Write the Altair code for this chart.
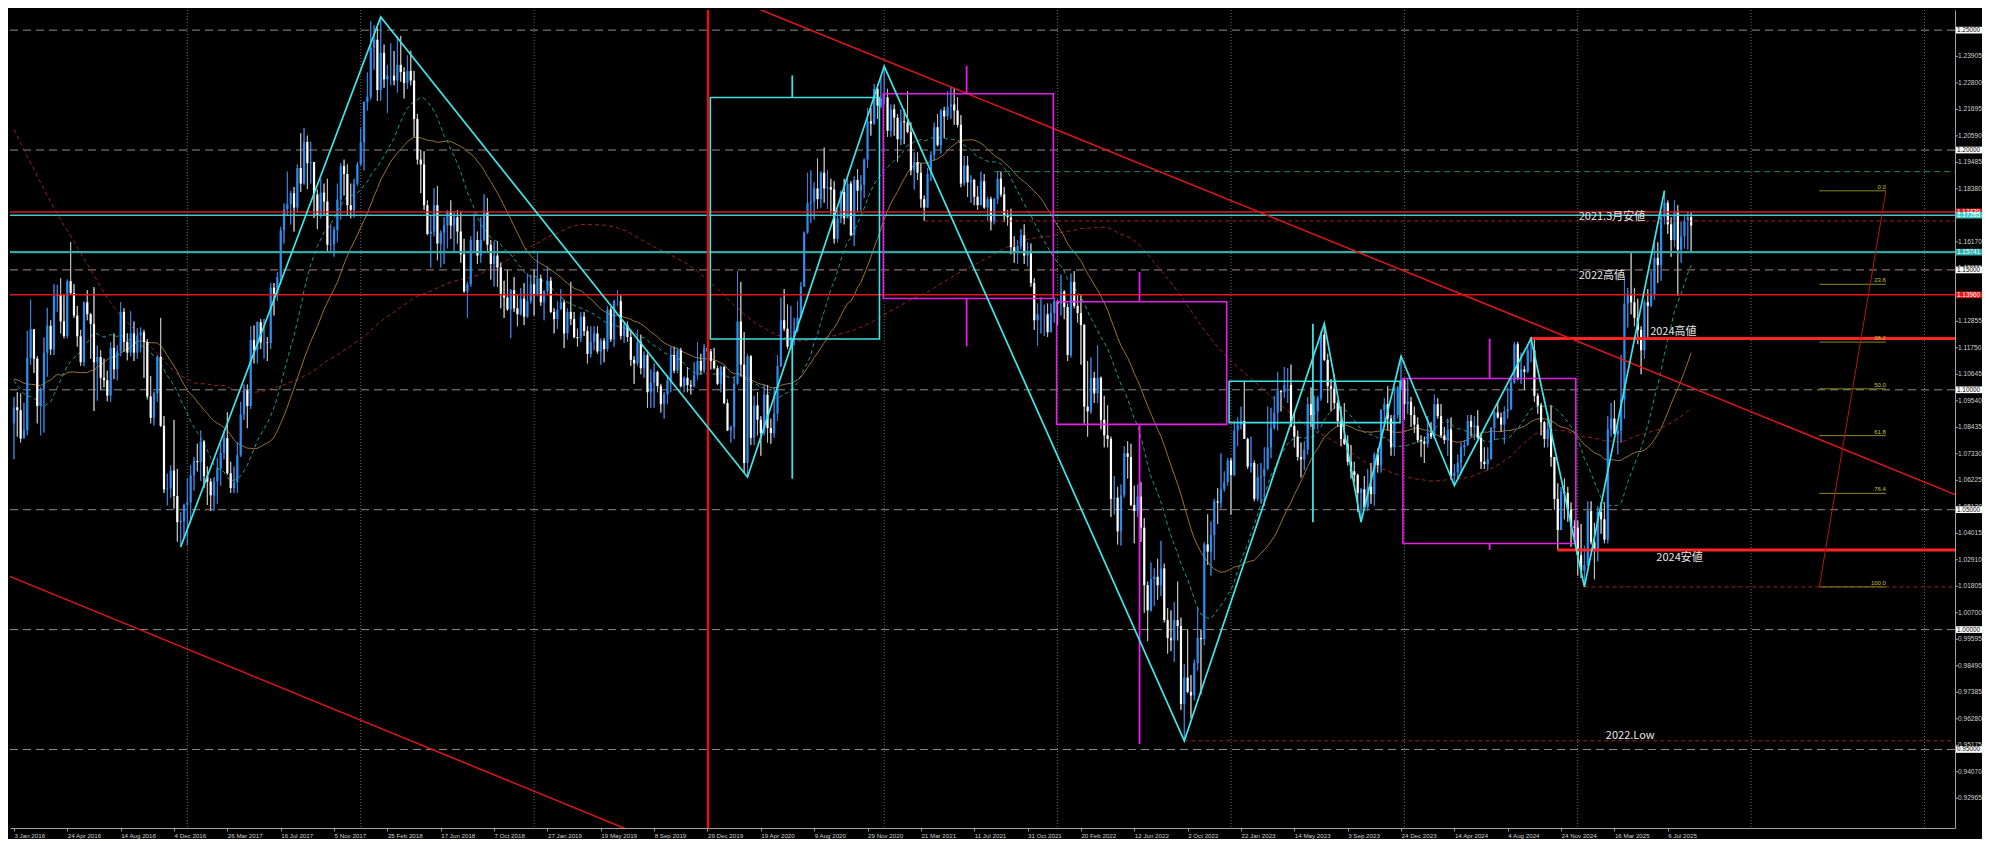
import altair as alt
import pandas as pd

W, H = 1945, 818
Y_MIN, Y_MAX = 0.91725, 1.2584

# ---------------- weekly closes before the visible window (only used for the moving averages)
pre_close = [
    1.3490, 1.3630, 1.3740, 1.3800, 1.3870, 1.3910, 1.3790, 1.3750, 1.3780, 1.3880,
    1.3880, 1.3830, 1.3870, 1.3870, 1.3750, 1.3630, 1.3630, 1.3600, 1.3590, 1.3600,
    1.3640, 1.3690, 1.3610, 1.3600, 1.3520, 1.3420, 1.3410, 1.3400, 1.3240, 1.3180,
    1.3130, 1.2950, 1.2830, 1.2680, 1.2520, 1.2630, 1.2760, 1.2670, 1.2680, 1.2510,
    1.2480, 1.2390, 1.2450, 1.2290, 1.2330, 1.2210, 1.2230, 1.2100,
    1.1840, 1.1630, 1.1200, 1.1290, 1.1310, 1.1390, 1.1380, 1.1200, 1.0840, 1.0490,
    1.0800, 1.0890, 1.0970, 1.0600, 1.0670, 1.0870, 1.1200, 1.1200, 1.1450, 1.1010,
    1.0990, 1.1110, 1.1260, 1.1270, 1.1160, 1.1110, 1.0950, 1.1010, 1.0830, 1.0980,
    1.0960, 1.1040, 1.1380, 1.1180, 1.1150, 1.1330, 1.1290, 1.1290, 1.1170, 1.1300,
    1.1360, 1.1010, 1.1000, 1.0740, 1.0770, 1.0640, 1.0590, 1.0880, 1.0990, 1.0990,
    1.0970, 1.0860,
]

# ---------------- weekly bars (high, low, close), weeks starting 3 Jan 2016
w2016 = [(1.0970,1.0710,1.0927),(1.0990,1.0805,1.0915),(1.0985,1.0780,1.0797),(1.0945,1.0810,1.0831),
         (1.1245,1.0810,1.1133),(1.1376,1.1105,1.1253),(1.1215,1.1070,1.1130),(1.1140,1.0860,1.0932),
         (1.1010,1.0810,1.1003),(1.1218,1.0822,1.1155),(1.1342,1.1055,1.1267),(1.1290,1.1145,1.1168),
         (1.1440,1.1145,1.1390),(1.1438,1.1325,1.1398),(1.1465,1.1235,1.1285),(1.1400,1.1215,1.1225),
         (1.1460,1.1215,1.1453),(1.1616,1.1400,1.1403),(1.1440,1.1300,1.1310),(1.1350,1.1180,1.1223),
         (1.1250,1.1100,1.1115),(1.1368,1.1098,1.1365),(1.1416,1.1290,1.1315),(1.1320,1.1130,1.1275),
         (1.1428,1.0912,1.1115),(1.1185,1.0955,1.1137),(1.1165,1.0998,1.1050),(1.1130,1.1010,1.1040),
         (1.1080,1.0952,1.0976),(1.1198,1.0950,1.1175),(1.1235,1.1045,1.1086),(1.1185,1.1040,1.1160),
         (1.1366,1.1140,1.1325),(1.1340,1.1158,1.1200),(1.1235,1.1123,1.1155),(1.1327,1.1140,1.1235),
         (1.1285,1.1120,1.1155),(1.1257,1.1130,1.1227),(1.1260,1.1156,1.1240),(1.1250,1.1050,1.1200),
         (1.1212,1.0960,1.0972),(1.1058,1.0860,1.0883),(1.0993,1.0851,1.0985),(1.1145,1.0950,1.1138),
         (1.1300,1.0845,1.0850),(1.0890,1.0570,1.0585),(1.0650,1.0518,1.0589),(1.0685,1.0550,1.0663),
         (1.0874,1.0505,1.0557),(1.0670,1.0367,1.0448),(1.0490,1.0345,1.0453),(1.0525,1.0380,1.0520)]
w2017 = [(1.0630,1.0350,1.0530),(1.0685,1.0455,1.0643),(1.0720,1.0580,1.0703),(1.0775,1.0660,1.0699),
         (1.0830,1.0620,1.0784),(1.0790,1.0590,1.0640),(1.0680,1.0520,1.0617),(1.0630,1.0495,1.0560),
         (1.0635,1.0495,1.0618),(1.0715,1.0525,1.0672),(1.0775,1.0600,1.0737),(1.0830,1.0710,1.0799),
         (1.0906,1.0645,1.0652),(1.0700,1.0570,1.0590),(1.0680,1.0570,1.0614),(1.0780,1.0570,1.0727),
         (1.0950,1.0720,1.0897),(1.1022,1.0875,1.0998),(1.1022,1.0840,1.0932),(1.1265,1.0920,1.1207),
         (1.1268,1.1110,1.1165),(1.1285,1.1110,1.1282),(1.1295,1.1170,1.1197),(1.1296,1.1130,1.1197),
         (1.1220,1.1120,1.1195),(1.1445,1.1170,1.1426),(1.1445,1.1310,1.1399),(1.1490,1.1370,1.1470),
         (1.1680,1.1440,1.1665),(1.1777,1.1610,1.1752),(1.1910,1.1730,1.1775),(1.1830,1.1690,1.1820),
         (1.1846,1.1660,1.1760),(1.1940,1.1740,1.1925),(1.2070,1.1825,1.1860),(1.2092,1.1855,1.2034),
         (1.2060,1.1837,1.1945),(1.2035,1.1860,1.1949),(1.1950,1.1717,1.1815),(1.1835,1.1670,1.1730),
         (1.1880,1.1715,1.1822),(1.1860,1.1730,1.1785),(1.1880,1.1575,1.1605),(1.1690,1.1575,1.1608),
         (1.1680,1.1555,1.1666),(1.1860,1.1615,1.1793),(1.1945,1.1710,1.1933),(1.1960,1.1810,1.1900),
         (1.1940,1.1730,1.1770),(1.1860,1.1715,1.1750),(1.1880,1.1718,1.1860),(1.1950,1.1850,1.1940),
         (1.2090,1.1935,1.2032)]
w2018 = [(1.2202,1.1915,1.2200),(1.2323,1.2165,1.2222),(1.2537,1.2210,1.2427),(1.2520,1.2335,1.2460),
         (1.2510,1.2205,1.2250),(1.2555,1.2205,1.2405),(1.2440,1.2260,1.2295),(1.2355,1.2155,1.2310),
         (1.2445,1.2270,1.2310),(1.2413,1.2270,1.2290),(1.2476,1.2240,1.2355),(1.2476,1.2285,1.2325),
         (1.2345,1.2215,1.2280),(1.2395,1.2255,1.2330),(1.2414,1.2270,1.2290),(1.2330,1.2055,1.2130),
         (1.2150,1.1940,1.1960),(1.2000,1.1820,1.1940),(1.1995,1.1750,1.1770),(1.1790,1.1645,1.1650),
         (1.1725,1.1510,1.1660),(1.1840,1.1640,1.1770),(1.1850,1.1540,1.1610),(1.1665,1.1510,1.1655),
         (1.1720,1.1525,1.1685),(1.1750,1.1590,1.1745),(1.1790,1.1630,1.1685),(1.1746,1.1575,1.1720),
         (1.1750,1.1610,1.1660),(1.1745,1.1530,1.1565),(1.1630,1.1405,1.1410),(1.1450,1.1300,1.1440),
         (1.1640,1.1430,1.1625),(1.1735,1.1575,1.1625),(1.1660,1.1525,1.1560),(1.1720,1.1530,1.1625),
         (1.1815,1.1620,1.1745),(1.1800,1.1580,1.1605),(1.1625,1.1460,1.1525),(1.1620,1.1430,1.1560),
         (1.1620,1.1430,1.1510),(1.1530,1.1340,1.1400),(1.1455,1.1300,1.1385),(1.1500,1.1330,1.1335),
         (1.1420,1.1215,1.1415),(1.1470,1.1325,1.1340),(1.1400,1.1265,1.1315),(1.1425,1.1310,1.1380),
         (1.1445,1.1270,1.1305),(1.1485,1.1300,1.1370),(1.1480,1.1360,1.1440),(1.1500,1.1310,1.1395)]
w2019 = [(1.1570,1.1390,1.1465),(1.1480,1.1350,1.1365),(1.1415,1.1290,1.1410),(1.1515,1.1395,1.1455),
         (1.1470,1.1320,1.1325),(1.1340,1.1235,1.1295),(1.1370,1.1255,1.1335),(1.1420,1.1335,1.1365),
         (1.1375,1.1175,1.1235),(1.1340,1.1210,1.1325),(1.1450,1.1270,1.1295),(1.1325,1.1215,1.1220),
         (1.1255,1.1180,1.1215),(1.1325,1.1200,1.1305),(1.1325,1.1225,1.1245),(1.1265,1.1110,1.1150),
         (1.1265,1.1135,1.1200),(1.1265,1.1165,1.1235),(1.1265,1.1150,1.1160),(1.1215,1.1105,1.1205),
         (1.1215,1.1115,1.1170),(1.1350,1.1160,1.1335),(1.1345,1.1200,1.1210),(1.1375,1.1180,1.1370),
         (1.1415,1.1350,1.1370),(1.1395,1.1210,1.1225),(1.1285,1.1195,1.1270),(1.1285,1.1200,1.1220),
         (1.1250,1.1100,1.1125),(1.1140,1.1025,1.1110),(1.1250,1.1100,1.1200),(1.1230,1.1065,1.1090),
         (1.1160,1.1050,1.1145),(1.1165,1.0925,1.0990),(1.1085,1.0925,1.1030),(1.1110,1.0925,1.1075),
         (1.1080,1.0990,1.1015),(1.1025,1.0905,1.0940),(1.0990,1.0880,1.0980),(1.1060,1.0940,1.1040),
         (1.1180,1.0990,1.1145),(1.1180,1.1070,1.1080),(1.1175,1.1070,1.1165),(1.1175,1.1010,1.1015),
         (1.1055,1.0990,1.1050),(1.1095,1.0990,1.1020),(1.1040,1.0980,1.1015),(1.1115,1.1010,1.1060),
         (1.1200,1.1040,1.1120),(1.1150,1.1065,1.1080),(1.1190,1.1070,1.1175),(1.1240,1.1125,1.1160)]
w2020 = [(1.1170,1.1085,1.1120),(1.1175,1.1085,1.1090),(1.1100,1.1020,1.1025),(1.1100,1.0990,1.1095),
         (1.1100,1.0940,1.0945),(1.0960,1.0828,1.0830),(1.0850,1.0780,1.0845),(1.1055,1.0795,1.1025),
         (1.1495,1.1020,1.1285),(1.1450,1.1055,1.1105),(1.1240,1.0655,1.0695),(1.1150,1.0636,1.1140),
         (1.1145,1.0770,1.0800),(1.0975,1.0770,1.0935),(1.0990,1.0810,1.0875),(1.0890,1.0725,1.0820),
         (1.1020,1.0810,1.0980),(1.1020,1.0780,1.0840),(1.0880,1.0775,1.0820),(1.1010,1.0800,1.0900),
         (1.1145,1.0870,1.1100),(1.1385,1.1095,1.1290),(1.1420,1.1245,1.1255),(1.1355,1.1170,1.1180),
         (1.1350,1.1170,1.1220),(1.1300,1.1185,1.1245),(1.1370,1.1240,1.1300),(1.1450,1.1300,1.1430),
         (1.1660,1.1430,1.1655),(1.1905,1.1650,1.1780),(1.1915,1.1695,1.1785),(1.1865,1.1710,1.1840),
         (1.1965,1.1755,1.1795),(1.1910,1.1760,1.1905),(1.2010,1.1780,1.1840),(1.1915,1.1755,1.1845),
         (1.1880,1.1735,1.1835),(1.1870,1.1610,1.1630),(1.1750,1.1615,1.1715),(1.1830,1.1695,1.1825),
         (1.1880,1.1690,1.1715),(1.1880,1.1720,1.1860),(1.1870,1.1640,1.1645),(1.1890,1.1600,1.1875),
         (1.1920,1.1745,1.1830),(1.1895,1.1745,1.1855),(1.1965,1.1800,1.1960),(1.2175,1.1925,1.2120),
         (1.2175,1.2060,1.2110),(1.2275,1.2105,1.2255),(1.2275,1.2130,1.2185),(1.2310,1.2175,1.2215)]
w2021 = [(1.2350,1.2190,1.2220),(1.2255,1.2055,1.2080),(1.2190,1.2055,1.2170),(1.2190,1.2060,1.2135),
         (1.2150,1.1950,1.2045),(1.2170,1.2020,1.2120),(1.2170,1.2025,1.2115),(1.2245,1.2070,1.2075),
         (1.2115,1.1895,1.1915),(1.1990,1.1835,1.1950),(1.1990,1.1875,1.1905),(1.1945,1.1760,1.1795),
         (1.1810,1.1705,1.1760),(1.1925,1.1760,1.1900),(1.1995,1.1870,1.1980),(1.2115,1.1955,1.2095),
         (1.2150,1.2015,1.2020),(1.2170,1.1985,1.2165),(1.2180,1.2050,1.2140),(1.2245,1.2125,1.2180),
         (1.2265,1.2130,1.2190),(1.2255,1.2105,1.2165),(1.2220,1.2095,1.2105),(1.2145,1.1845,1.1860),
         (1.1975,1.1850,1.1935),(1.1975,1.1805,1.1865),(1.1895,1.1780,1.1875),(1.1880,1.1770,1.1805),
         (1.1850,1.1750,1.1770),(1.1910,1.1770,1.1870),(1.1900,1.1755,1.1760),(1.1805,1.1705,1.1795),
         (1.1805,1.1665,1.1700),(1.1800,1.1690,1.1795),(1.1910,1.1775,1.1880),(1.1910,1.1805,1.1815),
         (1.1845,1.1700,1.1725),(1.1750,1.1685,1.1720),(1.1755,1.1565,1.1595),(1.1640,1.1530,1.1570),
         (1.1625,1.1525,1.1600),(1.1670,1.1585,1.1645),(1.1690,1.1525,1.1560),(1.1615,1.1515,1.1570),
         (1.1610,1.1430,1.1445),(1.1465,1.1250,1.1290),(1.1360,1.1185,1.1315),(1.1385,1.1235,1.1315),
         (1.1355,1.1225,1.1315),(1.1360,1.1220,1.1240),(1.1360,1.1265,1.1320),(1.1385,1.1280,1.1370)]
w2022 = [(1.1375,1.1270,1.1360),(1.1480,1.1310,1.1410),(1.1415,1.1295,1.1345),(1.1360,1.1120,1.1145),
         (1.1485,1.1135,1.1450),(1.1495,1.1340,1.1350),(1.1395,1.1280,1.1320),(1.1395,1.1105,1.1270),
         (1.1275,1.0860,1.0930),(1.1120,1.0805,1.0910),(1.1135,1.0900,1.1050),(1.1075,1.0945,1.0985),
         (1.1185,1.0945,1.1050),(1.1055,1.0835,1.0875),(1.0975,1.0760,1.0810),(1.0935,1.0760,1.0795),
         (1.0805,1.0470,1.0545),(1.0640,1.0480,1.0550),(1.0595,1.0355,1.0410),(1.0605,1.0350,1.0560),
         (1.0765,1.0550,1.0735),(1.0785,1.0630,1.0720),(1.0775,1.0515,1.0520),(1.0600,1.0360,1.0495),
         (1.0605,1.0470,1.0555),(1.0615,1.0365,1.0425),(1.0465,1.0070,1.0185),(1.0200,0.9952,1.0080),
         (1.0280,1.0075,1.0210),(1.0255,1.0100,1.0220),(1.0295,1.0125,1.0185),(1.0370,1.0140,1.0255),
         (1.0275,1.0030,1.0040),(1.0090,0.9900,0.9965),(1.0080,0.9910,0.9955),(1.0115,0.9865,1.0040),
         (1.0200,0.9955,1.0015),(1.0050,0.9665,0.9690),(0.9855,0.9536,0.9800),(1.0000,0.9735,0.9740),
         (0.9810,0.9630,0.9725),(0.9875,0.9705,0.9860),(1.0095,0.9830,0.9965),(1.0000,0.9730,0.9960),
         (1.0365,0.9935,1.0355),(1.0480,1.0270,1.0325),(1.0450,1.0225,1.0395),(1.0545,1.0290,1.0535),
         (1.0590,1.0440,1.0530),(1.0735,1.0505,1.0585),(1.0660,1.0575,1.0615),(1.0715,1.0600,1.0705)]
w2023 = [(1.0715,1.0480,1.0645),(1.0870,1.0640,1.0830),(1.0885,1.0765,1.0855),(1.0930,1.0835,1.0870),
         (1.1035,1.0800,1.0795),(1.0800,1.0670,1.0680),(1.0805,1.0655,1.0695),(1.0705,1.0535,1.0545),
         (1.0690,1.0535,1.0635),(1.0695,1.0525,1.0640),(1.0760,1.0515,1.0670),(1.0930,1.0665,1.0760),
         (1.0925,1.0715,1.0840),(1.0975,1.0835,1.0905),(1.1075,1.0830,1.0995),(1.1000,1.0910,1.0990),
         (1.1095,1.0965,1.1020),(1.1090,1.0945,1.1020),(1.1105,1.0845,1.0850),(1.0905,1.0760,1.0805),
         (1.0830,1.0705,1.0720),(1.0780,1.0635,1.0710),(1.0785,1.0665,1.0750),(1.0970,1.0730,1.0940),
         (1.1010,1.0845,1.0895),(1.0975,1.0835,1.0910),(1.0975,1.0835,1.0965),(1.1245,1.0955,1.1230),
         (1.1276,1.1120,1.1125),(1.1150,1.0945,1.1015),(1.1045,1.0910,1.1005),(1.1065,1.0920,1.0945),
         (1.0955,1.0845,1.0870),(1.0930,1.0765,1.0795),(1.0945,1.0770,1.0775),(1.0810,1.0685,1.0700),
         (1.0770,1.0630,1.0660),(1.0700,1.0615,1.0645),(1.0650,1.0490,1.0570),(1.0590,1.0448,1.0585),
         (1.0640,1.0500,1.0510),(1.0670,1.0495,1.0595),(1.0695,1.0525,1.0565),(1.0740,1.0515,1.0730),
         (1.0755,1.0655,1.0685),(1.0920,1.0655,1.0915),(1.0965,1.0850,1.0940),(1.1015,1.0830,1.0880),
         (1.0895,1.0725,1.0760),(1.1010,1.0725,1.0895),(1.1015,1.0880,1.1010),(1.1140,1.1000,1.1040),
         (1.1045,1.0875,1.0940)]
w2024 = [(1.1045,1.0900,1.0950),(1.0970,1.0845,1.0895),(1.0930,1.0820,1.0855),(1.0885,1.0780,1.0790),
         (1.0810,1.0720,1.0785),(1.0805,1.0695,1.0775),(1.0890,1.0760,1.0820),(1.0865,1.0795,1.0805),
         (1.0980,1.0795,1.0940),(1.0965,1.0880,1.0890),(1.0940,1.0800,1.0810),(1.0845,1.0775,1.0790),
         (1.0880,1.0725,1.0835),(1.0885,1.0625,1.0640),(1.0690,1.0601,1.0655),(1.0730,1.0625,1.0695),
         (1.0780,1.0650,1.0760),(1.0790,1.0725,1.0770),(1.0895,1.0765,1.0870),(1.0895,1.0805,1.0845),
         (1.0890,1.0790,1.0850),(1.0915,1.0795,1.0800),(1.0815,1.0670,1.0700),(1.0760,1.0670,1.0690),
         (1.0760,1.0665,1.0710),(1.0845,1.0710,1.0840),(1.0910,1.0790,1.0905),(1.0950,1.0880,1.0885),
         (1.0905,1.0825,1.0855),(1.0930,1.0775,1.0910),(1.1010,1.0880,1.0920),(1.1050,1.0915,1.1030),
         (1.1200,1.1025,1.1190),(1.1200,1.1040,1.1050),(1.1155,1.1025,1.1085),(1.1100,1.1000,1.1075),
         (1.1190,1.1070,1.1165),(1.1214,1.1115,1.1165),(1.1210,1.0950,1.0975),(1.0985,1.0900,1.0935),
         (1.0945,1.0810,1.0865),(1.0870,1.0760,1.0795),(1.0905,1.0760,1.0835),(1.0935,1.0680,1.0720),
         (1.0720,1.0500,1.0545),(1.0610,1.0332,1.0415),(1.0595,1.0425,1.0575),(1.0630,1.0460,1.0570),
         (1.0595,1.0450,1.0500),(1.0530,1.0345,1.0430),(1.0455,1.0385,1.0425),(1.0455,1.0225,1.0310)]
w2025 = [(1.0440,1.0215,1.0245),(1.0350,1.0178,1.0270),(1.0535,1.0265,1.0495),(1.0535,1.0355,1.0365),
         (1.0445,1.0210,1.0330),(1.0515,1.0285,1.0490),(1.0530,1.0400,1.0460),(1.0530,1.0360,1.0375),
         (1.0890,1.0360,1.0835),(1.0945,1.0805,1.0880),(1.0955,1.0815,1.0815),(1.0860,1.0730,1.0830),
         (1.1145,1.0780,1.0960),(1.1475,1.0880,1.1360),(1.1425,1.1260,1.1395),(1.1575,1.1315,1.1365),
         (1.1425,1.1265,1.1300),(1.1380,1.1190,1.1250),(1.1265,1.1065,1.1165),(1.1375,1.1130,1.1365),
         (1.1420,1.1210,1.1350),(1.1495,1.1345,1.1395),(1.1630,1.1375,1.1550),(1.1615,1.1445,1.1520),
         (1.1745,1.1455,1.1720),(1.1830,1.1690,1.1780),(1.1790,1.1650,1.1690),(1.1720,1.1555,1.1625),
         (1.1790,1.1595,1.1745),(1.1770,1.1392,1.1585),(1.1700,1.1530,1.1640),(1.1730,1.1590,1.1705),
         (1.1745,1.1585,1.1720),(1.1740,1.1575,1.1685)]

# ---------------- axis values
x_tick_dates = ["2016-01-03", "2016-04-24", "2016-08-14", "2016-12-04", "2017-03-26", "2017-07-16",
                "2017-11-05", "2018-02-25", "2018-06-17", "2018-10-07", "2019-01-27", "2019-05-19",
                "2019-09-08", "2019-12-29", "2020-04-19", "2020-08-09", "2020-11-29", "2021-03-21",
                "2021-07-11", "2021-10-31", "2022-02-20", "2022-06-12", "2022-10-02", "2023-01-22",
                "2023-05-14", "2023-09-03", "2023-12-24", "2024-04-14", "2024-08-04", "2024-11-24",
                "2025-03-16", "2025-07-06"]
y_ticks = [0.92965, 0.94070, 0.95175, 0.96280, 0.97385, 0.98490, 0.99595, 1.00700, 1.01805, 1.02910,
           1.04015, 1.05120, 1.06225, 1.07330, 1.08435, 1.09540, 1.10645, 1.11750, 1.12855, 1.13960,
           1.15065, 1.16170, 1.17275, 1.18380, 1.19485, 1.20590, 1.21695, 1.22800, 1.23905]
grid_dates = ["2017-01-01", "2017-12-31", "2018-12-30", "2019-12-29", "2021-01-03", "2022-01-02",
              "2023-01-01", "2023-12-31", "2024-12-29", "2025-12-28", "2026-12-27"]
DOMAIN_START = (2015, 12, 25, 17)
DOMAIN_END = "2027-03-01"

# ---------------- drawn objects
round_levels = [1.25, 1.20, 1.15, 1.10, 1.05, 1.00, 0.95]
round_colors = ["#8c8c8c", "#8c8c8c", "#a88888", "#8c8c8c", "#8c8c8c", "#8c8c8c", "#8c8c8c"]
full_prices = [1.1742, 1.17285, 1.15741, 1.1396]
full_colors = ["#e01818", "#3cc8c8", "#36a8a4", "#e01818"]
full_widths = [1.5, 1.5, 2.2, 1.5]
thick_start = ["2024-09-19", "2024-11-16"]
thick_price = [1.1214, 1.0332]
dash_start = ["2025-01-12", "2022-09-25", "2021-03-28"]
dash_price = [1.0178, 0.9536, 1.1704]
teal_dash_start = ["2021-08-22"]
teal_dash_price = [1.1910]
red_vline = ["2019-12-30"]

zz_dates = ["2016-12-18", "2018-02-11", "2020-03-22", "2021-01-03", "2022-09-25", "2023-07-16",
            "2023-10-01", "2023-12-24", "2024-04-14", "2024-09-22", "2025-01-12", "2025-06-29"]
zz_price = [1.0345, 1.2555, 1.0636, 1.2349, 0.9536, 1.1276, 1.0448, 1.1140, 1.0601, 1.1214, 1.0178, 1.1830]

trend_id = ["upper", "upper", "lower", "lower"]
trend_dates = ["2020-02-09", "2027-04-04", "2015-12-13", "2019-08-25"]
trend_price = [1.2641, 1.0536, 1.0232, 0.9132]

box_x0 = ["2020-01-04", "2021-01-01", "2021-12-31", "2022-12-28", "2023-12-28"]
box_x1 = ["2020-12-24", "2021-12-24", "2022-12-23", "2023-12-22", "2024-12-25"]
box_top = [1.2219, 1.2235, 1.1367, 1.1036, 1.1047]
box_bot = [1.1212, 1.1381, 1.0856, 1.0863, 1.0359]
box_col = ["#3fe0e0", "#e81ee8", "#e81ee8", "#3fe0e0", "#e81ee8"]
seg_date = ["2020-06-24", "2020-06-24", "2021-06-25", "2021-06-25", "2022-06-23", "2022-06-23",
            "2023-06-22", "2024-06-27", "2024-06-27"]
seg_y1 = [1.2219, 1.1212, 1.2235, 1.1381, 1.1367, 1.0856, 1.1276, 1.1047, 1.0359]
seg_y2 = [1.2311, 1.0629, 1.2351, 1.1181, 1.1491, 0.9523, 1.0448, 1.1214, 1.0332]
seg_col = ["#3fe0e0", "#3fe0e0", "#e81ee8", "#e81ee8", "#e81ee8", "#e81ee8", "#3fe0e0", "#e81ee8", "#e81ee8"]

fib_start, fib_end = "2026-05-20", "2026-10-07"
fib_prices = [1.1830, 1.1440, 1.1199, 1.1004, 1.0809, 1.0568, 1.0178]
fib_labels = ["0.0", "23.6", "38.2", "50.0", "61.8", "76.4", "100.0"]
fib_diag_dates = ["2026-05-20", "2026-10-07"]
fib_diag_price = [1.0178, 1.1830]

note_text = ["2021.3月安値", "2022高値", "2024高値", "2024安値", "2022.Low"]
note_dates = ["2024-12-31", "2024-12-31", "2025-05-30", "2025-06-12", "2025-02-26"]
note_price = [1.1721, 1.1473, 1.1242, 1.0299, 0.9556]

tag_price = [1.25, 1.20, 1.15, 1.10, 1.05, 1.00, 0.95, 1.1742, 1.17285, 1.15741, 1.1396]
tag_text = ["1.25000", "1.20000", "1.15000", "1.10000", "1.05000", "1.00000", "0.95000",
            "1.17420", "1.17285", "1.15741", "1.13960"]
tag_fill = ["#ffffff"] * 7 + ["#e01818", "#3cc8c8", "#2fb0ac", "#e01818"]
tag_ink = ["#000000"] * 7 + ["#ffffff", "#ffffff", "#ffffff", "#ffffff"]

# ---------------- tables
rows = w2016 + w2017 + w2018 + w2019 + w2020 + w2021 + w2022 + w2023 + w2024 + w2025
dates = pd.date_range("2016-01-03", periods=len(rows), freq="7D")
closes = [r[2] for r in rows]
opens = [pre_close[-1]] + closes[:-1]
candles = pd.DataFrame({"date": dates, "open": opens, "high": [r[0] for r in rows],
                        "low": [r[1] for r in rows], "close": closes})
candles["up"] = candles["close"] >= candles["open"]

pre_dates = pd.date_range(end="2015-12-27", periods=len(pre_close), freq="7D")
ma_src = pd.DataFrame({"date": list(pre_dates) + list(dates), "close": pre_close + closes,
                       "shown": [False] * len(pre_close) + [True] * len(closes)})

T = pd.to_datetime


def dt(s):
    y, m, d = (int(v) for v in s.split("-"))
    return alt.DateTime(year=y, month=m, date=d)


xscale = alt.Scale(domain=[alt.DateTime(year=DOMAIN_START[0], month=DOMAIN_START[1], date=DOMAIN_START[2],
                                        hours=DOMAIN_START[3]), dt(DOMAIN_END)], nice=False)
yscale = alt.Scale(domain=[Y_MIN, Y_MAX], nice=False, zero=False)


def X(f="date"):
    return alt.X(f"{f}:T", scale=xscale, title="")


def Y(f):
    return alt.Y(f"{f}:Q", scale=yscale, title="")


x_axis = alt.Axis(values=[dt(s) for s in x_tick_dates], format="%-d %b %Y", labelAlign="left",
                  labelFontSize=6.2, labelColor="#d0d0d0", labelFont="Liberation Sans", tickColor="#a0a0a0",
                  tickSize=3, domainColor="#a0a0a0", grid=False, labelOverlap=False, labelPadding=1,
                  labelFlush=False, title="")
# right price axis: only the spine here, ticks and labels are drawn as marks below
y_axis = alt.Axis(orient="right", values=y_ticks, labels=False, ticks=False, domainColor="#a0a0a0",
                  grid=False, title="")

layers = []

# candles first: they carry the axes
layers.append(alt.Chart(candles).mark_rule(strokeWidth=1, clip=True).encode(
    x=alt.X("date:T", scale=xscale, axis=x_axis, title=""),
    y=alt.Y("low:Q", scale=yscale, axis=y_axis, title=""),
    y2="high:Q",
    color=alt.condition(alt.datum.up, alt.value("#3d7fd6"), alt.value("#bdbdbd"))))

# vertical yearly grid
layers.append(alt.Chart(pd.DataFrame({"date": T(grid_dates)})).mark_rule(
    color="#6a6a6a", strokeDash=[1, 2], strokeWidth=1).encode(x=X()))

# round-number dashed levels
layers.append(alt.Chart(pd.DataFrame({"p": round_levels, "c": round_colors})).mark_rule(
    strokeDash=[8, 5], strokeWidth=1).encode(y=Y("p"), color=alt.Color("c:N", scale=None)))


# moving averages
def ma_layer(n, color, dash=None):
    kw = dict(color=color, strokeWidth=1, clip=True)
    if dash:
        kw["strokeDash"] = dash
    return (alt.Chart(ma_src)
            .transform_window(ma="mean(close)", frame=[-(n - 1), 0], sort=[alt.SortField("date")])
            .transform_filter(alt.datum.shown)
            .mark_line(**kw).encode(x=X(), y=Y("ma")))


layers.append(ma_layer(100, "#9a2222", [4, 3]))
layers.append(ma_layer(34, "#9a7236"))
layers.append(ma_layer(21, "#1f9a88", [4, 3]))

# candle wicks again above the grid, then bodies
layers.append(alt.Chart(candles).mark_rule(strokeWidth=1, clip=True).encode(
    x=X(), y=Y("low"), y2="high:Q",
    color=alt.condition(alt.datum.up, alt.value("#3d7fd6"), alt.value("#bdbdbd"))))
layers.append(alt.Chart(candles).mark_rule(strokeWidth=2.2, clip=True).encode(
    x=X(), y=Y("open"), y2="close:Q",
    color=alt.condition(alt.datum.up, alt.value("#2b8ff0"), alt.value("#ffffff"))))

# full-width horizontal lines
layers.append(alt.Chart(pd.DataFrame({"p": full_prices, "c": full_colors, "w": full_widths})).mark_rule().encode(
    y=Y("p"), color=alt.Color("c:N", scale=None), strokeWidth=alt.StrokeWidth("w:Q", scale=None)))

# partial horizontal lines
end_t = T(DOMAIN_END)
layers.append(alt.Chart(pd.DataFrame({"s": T(dash_start), "e": end_t, "p": dash_price})).mark_rule(
    color="#a02020", strokeDash=[4, 3], strokeWidth=1).encode(x=X("s"), x2="e:T", y=Y("p")))
layers.append(alt.Chart(pd.DataFrame({"s": T(teal_dash_start), "e": end_t, "p": teal_dash_price})).mark_rule(
    color="#1f8a7a", strokeDash=[6, 4], strokeWidth=1).encode(x=X("s"), x2="e:T", y=Y("p")))
layers.append(alt.Chart(pd.DataFrame({"s": T(thick_start), "e": end_t, "p": thick_price})).mark_rule(
    color="#ff2424", strokeWidth=3).encode(x=X("s"), x2="e:T", y=Y("p")))

# red vertical separator
layers.append(alt.Chart(pd.DataFrame({"date": T(red_vline)})).mark_rule(
    color="#e01010", strokeWidth=2.5).encode(x=X()))

# trend lines
layers.append(alt.Chart(pd.DataFrame({"id": trend_id, "date": T(trend_dates), "p": trend_price})).mark_line(
    color="#e01818", strokeWidth=1.5, clip=True).encode(x=X(), y=Y("p"), detail="id:N"))

# yearly boxes
layers.append(alt.Chart(pd.DataFrame({"a": T(box_x0), "b": T(box_x1), "t": box_top, "u": box_bot, "c": box_col}))
              .mark_rect(fillOpacity=0, strokeWidth=1.6).encode(
    x=X("a"), x2="b:T", y=Y("t"), y2="u:Q", stroke=alt.Stroke("c:N", scale=None)))
layers.append(alt.Chart(pd.DataFrame({"date": T(seg_date), "a": seg_y1, "b": seg_y2, "c": seg_col}))
              .mark_rule(strokeWidth=1.8).encode(
    x=X(), y=Y("a"), y2="b:Q", color=alt.Color("c:N", scale=None)))

# zigzag
layers.append(alt.Chart(pd.DataFrame({"date": T(zz_dates), "p": zz_price})).mark_line(
    color="#3fe6e6", strokeWidth=1.7, clip=True).encode(x=X(), y=Y("p")))

# fibonacci
layers.append(alt.Chart(pd.DataFrame({"s": T([fib_start] * 7), "e": T([fib_end] * 7), "p": fib_prices}))
              .mark_rule(color="#8a8a20", strokeWidth=1).encode(x=X("s"), x2="e:T", y=Y("p")))
layers.append(alt.Chart(pd.DataFrame({"e": T([fib_end] * 7), "p": fib_prices, "t": fib_labels}))
              .mark_text(color="#c0c040", fontSize=6, align="right", baseline="bottom", dy=-1,
                         font="Liberation Sans").encode(x=X("e"), y=Y("p"), text="t:N"))
layers.append(alt.Chart(pd.DataFrame({"date": T(fib_diag_dates), "p": fib_diag_price})).mark_line(
    color="#b01818", strokeWidth=1).encode(x=X(), y=Y("p")))

# annotations
layers.append(alt.Chart(pd.DataFrame({"date": T(note_dates), "p": note_price, "t": note_text}))
              .mark_text(color="#e8e8e8", fontSize=11, align="left", baseline="middle",
                         font="Noto Sans CJK JP").encode(x=X(), y=Y("p"), text="t:N"))

# right price scale: ticks and labels
yt = pd.DataFrame({"v": y_ticks, "t": [f"{v:.5f}" for v in y_ticks]})
layers.append(alt.Chart(yt).mark_rule(color="#a0a0a0", strokeWidth=1).encode(
    x=alt.value(W), x2=alt.value(W + 3), y=Y("v")))
layers.append(alt.Chart(yt).mark_text(color="#d0d0d0", fontSize=6.6, align="left", baseline="middle",
                                      font="Liberation Sans").encode(x=alt.value(W + 3), y=Y("v"), text="t:N"))

# price tags on the right axis
tags = pd.DataFrame({"p": tag_price, "t": tag_text, "f": tag_fill, "k": tag_ink})
layers.append(alt.Chart(tags).transform_calculate(hi="datum.p + 0.0014", lo="datum.p - 0.0014")
              .mark_rect().encode(x=alt.value(W + 1), x2=alt.value(W + 27), y=Y("hi"), y2="lo:Q",
                                  fill=alt.Fill("f:N", scale=None)))
layers.append(alt.Chart(tags).mark_text(fontSize=6.4, align="left", baseline="middle",
                                        font="Liberation Sans").encode(
    x=alt.value(W + 2), y=Y("p"), text="t:N", color=alt.Color("k:N", scale=None)))

chart = (alt.layer(*layers)
         .properties(width=W, height=H, background="#000000", padding=0)
         .configure_view(strokeWidth=0)
         .configure_axis(labelOverlap=False))

chart.save("out.html", embed_options={"renderer": "svg", "actions": False})
